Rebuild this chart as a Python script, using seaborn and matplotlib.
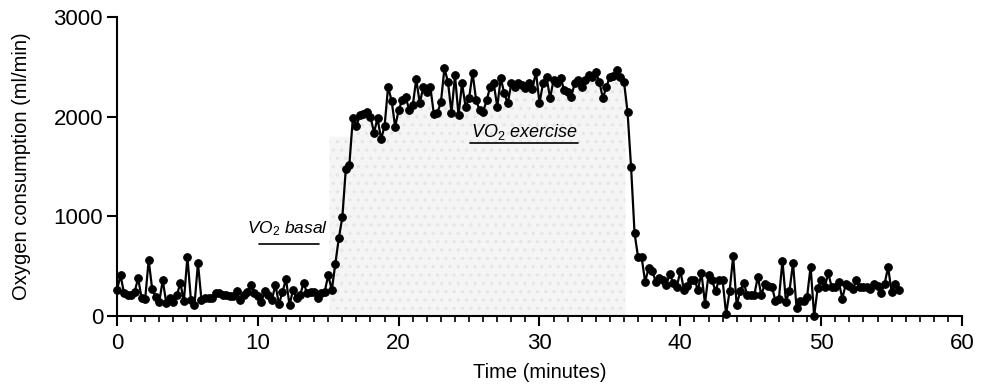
import numpy as np
import matplotlib
matplotlib.use("Agg")
import matplotlib.pyplot as plt
import seaborn as sns
from matplotlib.ticker import MultipleLocator

# VO2 readings (ml/min), sampled every 15 s from 0 to 55.5 min
basal = [260, 410, 230, 210, 210, 240, 380, 180, 170, 560, 270, 190, 140, 360, 130,
         180, 140, 210, 330, 150, 595, 160, 110, 530, 160, 180, 180, 180, 230, 230,
         210, 210, 200, 200, 250, 160, 210, 240, 310, 230, 200, 140, 250, 210, 160,
         316, 120, 240, 370, 110, 260, 180, 210, 330, 230, 240, 240, 180, 230, 245]
rise = [410, 260, 520, 780, 990, 1480, 1520]
exercise = [1990, 1905, 2015, 2030, 2045, 2000, 1840, 1985, 1775, 1905, 2300, 2160,
            1900, 2065, 2165, 2200, 2065, 2115, 2375, 2135, 2300, 2250, 2300, 2025,
            2040, 2145, 2485, 2350, 2040, 2415, 2015, 2335, 2100, 2185, 2440,
            2165, 2065, 2050, 2165, 2300, 2335, 2100, 2385, 2235, 2135, 2335, 2300,
            2335, 2320, 2290, 2335, 2280, 2450, 2135, 2335, 2400, 2185, 2370, 2335,
            2385, 2270, 2250, 2200, 2335, 2370, 2300, 2370, 2415, 2395, 2450, 2350,
            2185, 2300, 2400, 2410, 2465, 2400, 2350, 2050]
recovery = [1500, 830, 590, 590, 345, 480, 455, 345, 380, 360, 315, 420, 330, 290,
            455, 265, 300, 365, 360, 265, 430, 125, 415, 360, 250, 365, 360, 20,
            250, 600, 110, 250, 335, 210, 210, 210, 395, 210, 320, 300, 295, 155,
            175, 555, 145, 255, 530, 85, 150, 150, 195, 495, 0,
            280, 360, 290, 430, 290, 290, 345, 175, 320, 300, 270, 360, 295, 295,
            290, 270, 320, 300, 230, 320, 490, 245, 320, 260]

vo2 = np.array(basal + rise + exercise + recovery, dtype=float)
t = np.linspace(0, 55.5, len(vo2))

# exercise window shaded in the figure
ex_start, ex_end = 15.1, 36.1
shade_floor = 1800

sns.set_style("ticks")
plt.rcParams["font.family"] = ["Liberation Sans", "DejaVu Sans"]
plt.rcParams["mathtext.fontset"] = "custom"
plt.rcParams["mathtext.it"] = "Liberation Sans:italic"
plt.rcParams["mathtext.rm"] = "Liberation Sans"
plt.rcParams["hatch.color"] = "#e4e4e4"
plt.rcParams["hatch.linewidth"] = 1.2
plt.rcParams["text.color"] = "black"
plt.rcParams["axes.labelcolor"] = "black"

fig, ax = plt.subplots(figsize=(9.88, 3.84), dpi=100)
fig.subplots_adjust(left=0.1184, right=0.9737, bottom=0.177, top=0.9557)

# shaded area
tf = np.linspace(ex_start, ex_end, 400)
vf = np.maximum(np.interp(tf, t, vo2), shade_floor)
ax.fill_between(tf, 0, vf, facecolor="#f5f5f5", edgecolor="#e6e6e6",
                hatch="..", linewidth=0, zorder=1)

sns.lineplot(x=t, y=vo2, ax=ax, color="black", linewidth=1.6, marker="o",
             markersize=5.5, markeredgecolor="black", markerfacecolor="black",
             estimator=None, errorbar=None, zorder=3, clip_on=False)

# labels for the two phases
ax.text(12.1, 880, r"$VO_2\ basal$", ha="center", va="center", fontsize=12.5)
ax.plot([10.1, 14.35], [720, 720], color="black", linewidth=1.2)
ax.text(28.9, 1850, r"$VO_2\ exercise$", ha="center", va="center", fontsize=13)
ax.plot([25.1, 32.7], [1735, 1735], color="black", linewidth=1.2)

ax.set_xlim(0, 60)
ax.set_ylim(0, 3000)
ax.xaxis.set_major_locator(MultipleLocator(10))
ax.xaxis.set_minor_locator(MultipleLocator(1))
ax.yaxis.set_major_locator(MultipleLocator(1000))
ax.tick_params(axis="both", which="major", labelsize=16, length=7, width=1.5,
               color="black", labelcolor="black")
ax.tick_params(axis="x", which="major", pad=5)
ax.tick_params(axis="y", which="major", pad=3)
ax.tick_params(axis="x", which="minor", length=4, width=1.2, color="black")
for side in ["left", "bottom"]:
    ax.spines[side].set_linewidth(1.5)
    ax.spines[side].set_color("black")
sns.despine(ax=ax)

ax.set_xlabel("Time (minutes)", fontsize=14.5, labelpad=7)
ax.set_ylabel("Oxygen consumption (ml/min)", fontsize=14.5, labelpad=16)

fig.savefig("out.png", dpi=100)
